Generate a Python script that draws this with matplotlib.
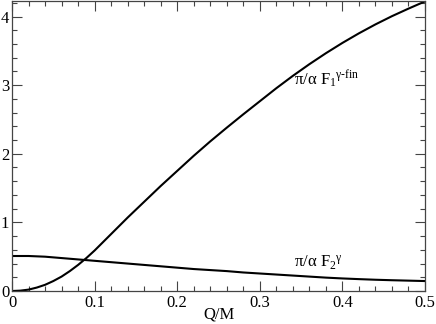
import matplotlib
matplotlib.use('Agg')
import matplotlib.pyplot as plt
import numpy as np
from matplotlib.ticker import MultipleLocator

# values
q = [0.0, 0.01, 0.02, 0.03, 0.04, 0.05, 0.06, 0.07, 0.08, 0.09, 0.10,
     0.12, 0.14, 0.16, 0.18, 0.20, 0.22, 0.24, 0.26, 0.28, 0.30,
     0.32, 0.34, 0.36, 0.38, 0.40, 0.42, 0.44, 0.46, 0.48, 0.50]
f1_fin = [0.0, 0.005, 0.02, 0.05, 0.09, 0.145, 0.21, 0.29, 0.38, 0.48, 0.59,
          0.83, 1.07, 1.30, 1.53, 1.75, 1.97, 2.18, 2.38, 2.575, 2.765,
          2.955, 3.135, 3.305, 3.465, 3.615, 3.755, 3.885, 4.005, 4.115, 4.22]
f2 = [0.51, 0.51, 0.51, 0.505, 0.50, 0.49, 0.48, 0.47, 0.46, 0.45, 0.44,
      0.42, 0.40, 0.38, 0.36, 0.34, 0.32, 0.305, 0.29, 0.27, 0.255,
      0.24, 0.225, 0.21, 0.195, 0.183, 0.173, 0.164, 0.157, 0.151, 0.145]

plt.rcParams['font.family'] = 'Liberation Serif'
plt.rcParams['mathtext.fontset'] = 'custom'
plt.rcParams['mathtext.rm'] = 'Liberation Serif'
plt.rcParams['mathtext.it'] = 'Liberation Serif'
plt.rcParams['font.size'] = 12

fig = plt.figure(figsize=(4.36, 3.24), dpi=100)
ax = fig.add_axes([12 / 436, 33 / 324, 413 / 436, 290 / 324])

ax.plot(q, f1_fin, color='black', lw=1.5)
ax.plot(q, f2, color='black', lw=1.5)

ax.set_xlim(0, 0.5)
ax.set_ylim(0, 4.226)

ax.xaxis.set_major_locator(MultipleLocator(0.1))
ax.xaxis.set_minor_locator(MultipleLocator(0.02))
ax.yaxis.set_major_locator(MultipleLocator(1))
ax.yaxis.set_minor_locator(MultipleLocator(0.2))
ax.xaxis.set_major_formatter(plt.FuncFormatter(lambda v, p: '0' if v == 0 else '%g' % v))

ax.tick_params(which='both', direction='in', top=True, right=True, colors='#444444', labelcolor='black')
ax.tick_params(which='major', length=7.5, width=0.8)
ax.tick_params(which='minor', length=3.8, width=0.8)
ax.tick_params(axis='y', pad=2)
ax.tick_params(axis='x', pad=3)
for s in ax.spines.values():
    s.set_color('#444444')
    s.set_linewidth(0.9)

ax.set_xlabel('Q/M', labelpad=-3.5)

ax.text(0.341, 3.0, r'$\mathrm{\pi/\alpha\ F_1}^{\mathrm{\gamma\text{-}fin}}$', va='baseline')
ax.text(0.341, 0.34, r'$\mathrm{\pi/\alpha\ F_2}^{\mathrm{\gamma}}$', va='baseline')

fig.savefig('out.png', dpi=100)
